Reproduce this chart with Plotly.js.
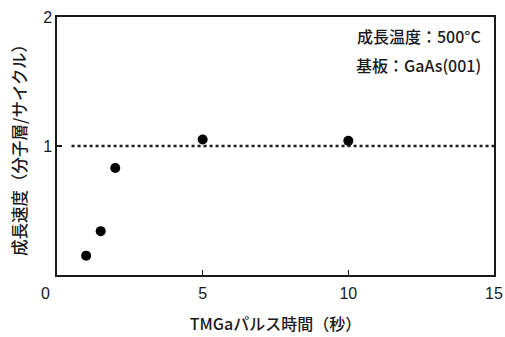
<!DOCTYPE html>
<html>
<head>
<meta charset="utf-8">
<script src="https://cdn.plot.ly/plotly-3.0.1.min.js"></script>
<style>html,body{margin:0;padding:0;background:#fff;}#chart{width:505px;height:337px;}</style>
</head>
<body>
<div id="chart"></div>
<script>
// Data
const pulseTime = [1.0, 1.5, 2.0, 5.0, 10.0];
const growthRate = [0.15, 0.34, 0.83, 1.05, 1.04];
const refLineX = [0.5, 15];
const refLineY = [1, 1];
const xTickVals = [0, 5, 10, 15];
const xTickText = ['', '5', '10', '15'];
const yTickVals = [1, 2];
const yTickText = ['1', '2'];
const noteLines = ['成長温度：500°C', '基板：GaAs(001)'];
const xTitle = 'TMGaパルス時間（秒）';
const yTitle = '成長速度（分子層/サイクル）';
const originLabel = '0';

const FONT = '"Noto Sans CJK JP", "Liberation Sans", sans-serif';
const NUMFONT = '"Liberation Sans", Arial, sans-serif';
const INK = '#1a1a1a';
const W = 500;

const traces = [
  {
    x: refLineX, y: refLineY, mode: 'lines', type: 'scatter',
    line: {color: INK, width: 2.5, dash: 'dot'}, hoverinfo: 'skip', showlegend: false
  },
  {
    x: pulseTime, y: growthRate, mode: 'markers', type: 'scatter',
    marker: {color: '#000', size: 10}, showlegend: false
  }
];

const layout = {
  width: 505, height: 337,
  margin: {l: 57, r: 11, t: 17, b: 62},
  paper_bgcolor: '#fff', plot_bgcolor: '#fff',
  font: {family: FONT, color: INK, size: 16},
  showlegend: false,
  xaxis: {
    range: [0, 15], tickvals: xTickVals, ticktext: xTickText,
    ticks: 'inside', ticklen: 5, tickwidth: 1, tickcolor: INK,
    showline: true, linecolor: INK, linewidth: 1.6, mirror: true,
    showgrid: false, zeroline: false,
    tickfont: {family: NUMFONT, size: 16, color: INK},
    ticklabelstandoff: 3,
    title: {text: xTitle, font: {family: FONT, size: 16, color: INK, weight: W}, standoff: 18}
  },
  yaxis: {
    range: [0, 2], tickvals: yTickVals, ticktext: yTickText,
    ticks: 'inside', ticklen: 5, tickwidth: 1.2, tickcolor: INK,
    showline: true, linecolor: INK, linewidth: 1.6, mirror: true,
    showgrid: false, zeroline: false,
    tickfont: {family: NUMFONT, size: 16, color: INK},
    title: {text: yTitle, font: {family: FONT, size: 16.5, color: INK, weight: W}, standoff: 12}
  },
  annotations: [
    {xref: 'paper', yref: 'paper', x: 0.975, y: 0.925, xanchor: 'right', yanchor: 'middle',
     text: noteLines[0], showarrow: false, font: {family: FONT, size: 16, color: INK, weight: W}},
    {xref: 'paper', yref: 'paper', x: 0.975, y: 0.815, xanchor: 'right', yanchor: 'middle',
     text: noteLines[1], showarrow: false, font: {family: FONT, size: 16, color: INK, weight: W}},
    {xref: 'x', yref: 'paper', x: 0, y: 0, xshift: -12, yshift: -18, xanchor: 'center', yanchor: 'middle',
     text: originLabel, showarrow: false, font: {family: NUMFONT, size: 16, color: INK}}
  ]
};

Plotly.newPlot('chart', traces, layout, {displayModeBar: false, staticPlot: true});
</script>
</body>
</html>
